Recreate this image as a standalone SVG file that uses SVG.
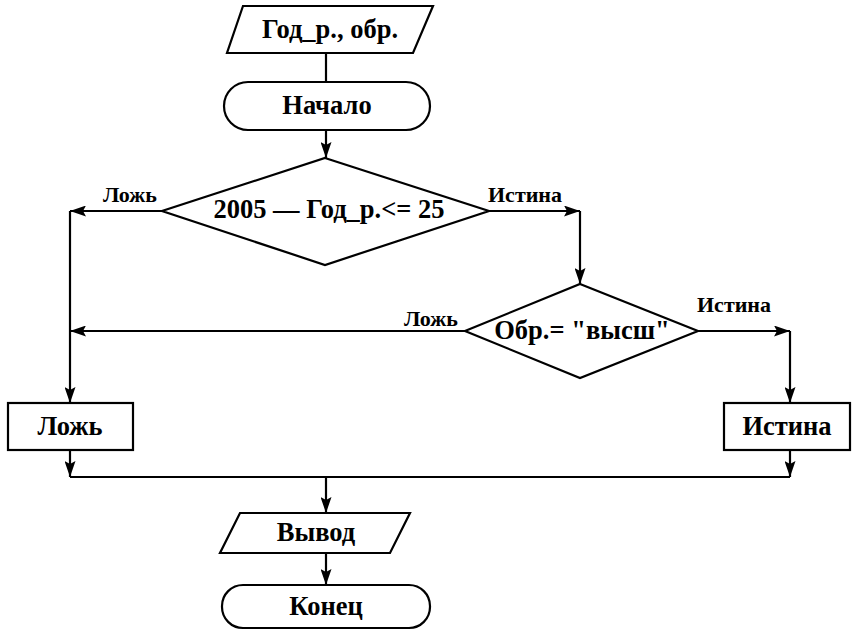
<svg xmlns="http://www.w3.org/2000/svg" width="853" height="630" viewBox="0 0 853 630">
<defs>
<marker id="ah" viewBox="0 0 16 11" refX="16" refY="5.5" markerWidth="16" markerHeight="11" markerUnits="userSpaceOnUse" orient="auto">
<path d="M0,0 L16,5.5 L0,11 L3,5.5 Z" fill="#000"/>
</marker>
<style>
.s{fill:#fff;stroke:#000;stroke-width:2.2}
.t{font-family:"Liberation Serif","Times New Roman",serif;font-size:26.5px;font-weight:bold;fill:#000;text-anchor:middle;dominant-baseline:central}
.l{font-family:"Liberation Serif","Times New Roman",serif;font-size:22px;font-weight:bold;fill:#000}
.c{fill:none;stroke:#000;stroke-width:2.2}
.a{marker-end:url(#ah)}
</style>
</defs>
<rect width="853" height="630" fill="#fff"/>
<g id="connectors">
<path class="c" d="M326,53 V82"/>
<path class="c a" d="M326,130 V158"/>
<path class="c a" d="M162,211 H70"/>
<path class="c a" d="M70,211 V403"/>
<path class="c a" d="M489,211 H580"/>
<path class="c a" d="M580,211 V284"/>
<path class="c a" d="M465,331 H70"/>
<path class="c a" d="M698,331 H790"/>
<path class="c a" d="M790,331 V403"/>
<path class="c a" d="M70,450 V477"/>
<path class="c a" d="M790,450 V477"/>
<path class="c" d="M70,477 H790"/>
<path class="c a" d="M326,477 V513"/>
<path class="c a" d="M326,553 V585"/>
<text class="l" x="103" y="202">Ложь</text>
<text class="l" x="488" y="202">Истина</text>
<text class="l" x="404" y="326">Ложь</text>
<text class="l" x="697" y="312">Истина</text>
</g>
<g id="input">
<polygon class="s" points="243,6 433,6 413,53 227,53"/>
<text class="t" x="330" y="29">Год_р.,  обр.</text>
</g>
<g id="start">
<rect class="s" x="224" y="82" width="206" height="48" rx="24" ry="24"/>
<text class="t" x="327" y="105">Начало</text>
</g>
<g id="cond1">
<polygon class="s" points="325,158 489,211 325,265 162,211"/>
<text class="t" x="329" y="209">2005 — Год_р.&lt;= 25</text>
</g>
<g id="cond2">
<polygon class="s" points="580,284 698,331 580,378 465,331"/>
<text class="t" x="582" y="330">Обр.= "высш"</text>
</g>
<g id="false">
<rect class="s" x="8" y="403" width="125" height="47"/>
<text class="t" x="70" y="426">Ложь</text>
</g>
<g id="true">
<rect class="s" x="724" y="403" width="126" height="47"/>
<text class="t" x="787" y="426">Истина</text>
</g>
<g id="output">
<polygon class="s" points="240,513 410,513 390,553 220,553"/>
<text class="t" x="316" y="532">Вывод</text>
</g>
<g id="end">
<rect class="s" x="222" y="585" width="208" height="43" rx="21" ry="21"/>
<text class="t" x="326" y="606">Конец</text>
</g>
</svg>
